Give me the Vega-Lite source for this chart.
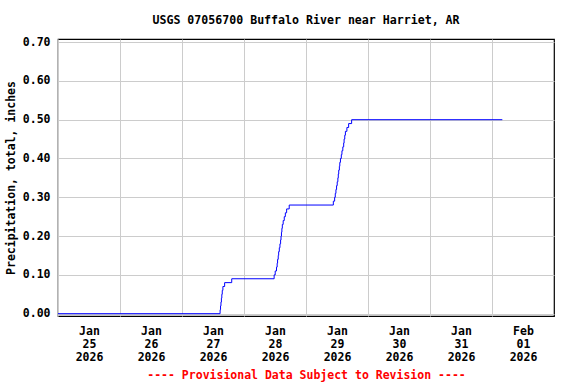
{
  "$schema": "https://vega.github.io/schema/vega-lite/v6.json",
  "width": 496,
  "height": 277,
  "autosize": "none",
  "padding": {"left": 58, "top": 39, "right": 22, "bottom": 68},
  "background": "white",
  "title": {
    "text": "USGS 07056700 Buffalo River near Harriet, AR",
    "font": "DejaVu Sans Mono",
    "fontWeight": "bold",
    "fontSize": 11.6,
    "color": "black",
    "anchor": "middle",
    "offset": 10
  },
  "config": {
    "view": {"stroke": "black", "strokeWidth": 1.2},
    "axis": {
      "labelFont": "DejaVu Sans Mono",
      "labelFontWeight": "bold",
      "labelFontSize": 11.5,
      "labelColor": "black",
      "titleFont": "DejaVu Sans Mono",
      "titleFontWeight": "bold",
      "titleFontSize": 11.5,
      "titleColor": "black",
      "domain": false,
      "ticks": false,
      "gridColor": "#cccccc",
      "gridWidth": 1,
      "gridOpacity": 1
    }
  },
  "data": {
    "values": [
      {"t": "2026-01-25T00:00", "v": 0},
      {"t": "2026-01-27T14:45", "v": 0.01},
      {"t": "2026-01-27T14:55", "v": 0.02},
      {"t": "2026-01-27T15:05", "v": 0.03},
      {"t": "2026-01-27T15:15", "v": 0.04},
      {"t": "2026-01-27T15:25", "v": 0.05},
      {"t": "2026-01-27T15:35", "v": 0.06},
      {"t": "2026-01-27T15:50", "v": 0.07},
      {"t": "2026-01-27T16:30", "v": 0.08},
      {"t": "2026-01-27T19:15", "v": 0.09},
      {"t": "2026-01-28T11:40", "v": 0.10},
      {"t": "2026-01-28T12:05", "v": 0.11},
      {"t": "2026-01-28T12:35", "v": 0.12},
      {"t": "2026-01-28T12:50", "v": 0.13},
      {"t": "2026-01-28T13:00", "v": 0.14},
      {"t": "2026-01-28T13:15", "v": 0.15},
      {"t": "2026-01-28T13:25", "v": 0.16},
      {"t": "2026-01-28T13:40", "v": 0.17},
      {"t": "2026-01-28T13:55", "v": 0.18},
      {"t": "2026-01-28T14:10", "v": 0.19},
      {"t": "2026-01-28T14:20", "v": 0.20},
      {"t": "2026-01-28T14:30", "v": 0.21},
      {"t": "2026-01-28T14:40", "v": 0.22},
      {"t": "2026-01-28T14:50", "v": 0.23},
      {"t": "2026-01-28T15:10", "v": 0.24},
      {"t": "2026-01-28T15:35", "v": 0.25},
      {"t": "2026-01-28T16:00", "v": 0.26},
      {"t": "2026-01-28T16:30", "v": 0.27},
      {"t": "2026-01-28T17:30", "v": 0.28},
      {"t": "2026-01-29T10:35", "v": 0.29},
      {"t": "2026-01-29T11:05", "v": 0.30},
      {"t": "2026-01-29T11:20", "v": 0.31},
      {"t": "2026-01-29T11:35", "v": 0.32},
      {"t": "2026-01-29T11:50", "v": 0.33},
      {"t": "2026-01-29T12:05", "v": 0.34},
      {"t": "2026-01-29T12:20", "v": 0.35},
      {"t": "2026-01-29T12:30", "v": 0.36},
      {"t": "2026-01-29T12:40", "v": 0.37},
      {"t": "2026-01-29T12:55", "v": 0.38},
      {"t": "2026-01-29T13:05", "v": 0.39},
      {"t": "2026-01-29T13:20", "v": 0.40},
      {"t": "2026-01-29T13:40", "v": 0.41},
      {"t": "2026-01-29T13:55", "v": 0.42},
      {"t": "2026-01-29T14:15", "v": 0.43},
      {"t": "2026-01-29T14:35", "v": 0.44},
      {"t": "2026-01-29T14:45", "v": 0.45},
      {"t": "2026-01-29T15:00", "v": 0.46},
      {"t": "2026-01-29T15:15", "v": 0.47},
      {"t": "2026-01-29T15:50", "v": 0.48},
      {"t": "2026-01-29T16:30", "v": 0.49},
      {"t": "2026-01-29T17:40", "v": 0.50},
      {"t": "2026-02-01T04:00", "v": 0.50}
    ]
  },
  "mark": {"type": "line", "interpolate": "step-after", "color": "#0000ff", "strokeWidth": 1, "clip": true},
  "encoding": {
    "x": {
      "field": "t",
      "type": "temporal",
      "scale": {
        "domain": [
          {"year": 2026, "month": "jan", "date": 25},
          {"year": 2026, "month": "feb", "date": 2}
        ],
        "nice": false
      },
      "axis": {
        "values": [
          {"year": 2026, "month": "jan", "date": 25},
          {"year": 2026, "month": "jan", "date": 26},
          {"year": 2026, "month": "jan", "date": 27},
          {"year": 2026, "month": "jan", "date": 28},
          {"year": 2026, "month": "jan", "date": 29},
          {"year": 2026, "month": "jan", "date": 30},
          {"year": 2026, "month": "jan", "date": 31},
          {"year": 2026, "month": "feb", "date": 1}
        ],
        "labelExpr": "[timeFormat(datum.value, '%b'), timeFormat(datum.value, '%d'), timeFormat(datum.value, '%Y')]",
        "labelOffset": 31,
        "labelAlign": "center",
        "labelBaseline": "top",
        "labelPadding": 9,
        "labelLineHeight": 13,
        "labelOverlap": false,
        "labelBound": false,
        "labelFlush": false,
        "title": "---- Provisional Data Subject to Revision ----",
        "titleColor": "#ff0000",
        "titlePadding": 7
      }
    },
    "y": {
      "field": "v",
      "type": "quantitative",
      "scale": {"domain": [-0.006, 0.708], "nice": false, "zero": false},
      "axis": {
        "values": [0, 0.1, 0.2, 0.3, 0.4, 0.5, 0.6, 0.7],
        "format": ".2f",
        "labelPadding": 8,
        "title": "Precipitation, total, inches",
        "titlePadding": 6
      }
    }
  }
}
